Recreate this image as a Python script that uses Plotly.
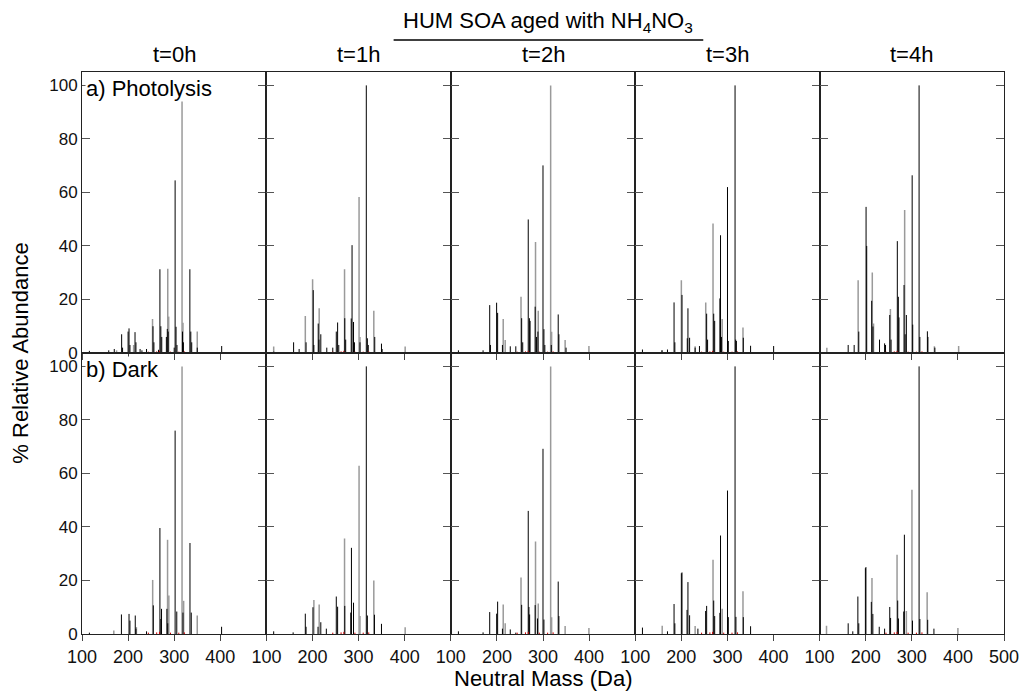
import plotly.graph_objects as go
from plotly.subplots import make_subplots

# ---------------- data (neutral mass in Da, % relative abundance) ----------------
TIME_LABELS = ["t=0h", "t=1h", "t=2h", "t=3h", "t=4h"]
ROW_LABELS = ["a) Photolysis", "b) Dark"]
X_TICKS = [100, 200, 300, 400]
X_TICKS_LAST = [100, 200, 300, 400, 500]
Y_TICKS = [0, 20, 40, 60, 80, 100]

# --- a) Photolysis ---
a0_black_mz = [116, 158, 170, 186, 188, 200, 202, 204, 215, 217, 226, 230, 240, 254, 256, 266, 269, 271, 273, 283, 285, 287, 300, 302, 304, 306, 318, 320, 334, 336, 338, 350, 403]
a0_black_ab = [0.8, 1, 1.5, 7, 2, 8, 9.2, 3, 7.8, 4, 1.5, 1, 1.5, 10, 4, 1.2, 31.3, 10, 6, 6, 9, 8, 2, 64.5, 9.8, 3, 8, 4, 31.3, 8, 4, 2, 2.6]
a0_grey_mz = [175, 212, 253, 286, 288, 317, 319, 350]
a0_grey_ab = [1, 3, 12.7, 31.5, 13.6, 100, 11.3, 8]

a1_black_mz = [116, 159, 171, 186, 201.6, 203, 212.4, 214, 218, 231, 244, 251.6, 254.5, 257, 270, 272, 284, 285.8, 289, 291, 303, 316.7, 319, 321, 335, 349.6, 351]
a1_black_ab = [0.5, 4, 1.5, 4, 23.5, 3, 11, 5, 7, 2, 2, 8, 11.4, 3, 13, 5, 12.9, 40.3, 11.6, 4, 4, 100, 5.5, 3, 6, 3.5, 1.5]
a1_grey_mz = [115.8, 184.4, 200.2, 214.5, 269.5, 301, 303, 333, 401]
a1_grey_ab = [2.4, 13.8, 27.6, 16.7, 31.3, 58.3, 6, 15.8, 2.4]

a2_black_mz = [116.5, 170, 184.4, 186, 199.4, 201.6, 212, 229, 241, 253.7, 256, 268, 270.5, 272, 283, 286, 289, 300, 302, 304, 318, 333, 334.5, 350]
a2_black_ab = [1, 1, 17.9, 3, 18.8, 15, 3, 2.5, 2.5, 13, 4, 49.9, 13, 12, 17.3, 6, 8, 70.1, 8.9, 3, 3, 14.4, 7, 2]
a2_grey_mz = [213.7, 218, 252.3, 283.8, 289.7, 316.6, 318.7, 348, 399.6]
a2_grey_ab = [12.7, 4.9, 21, 41.5, 15.8, 100, 7.9, 4.9, 2.6]

a3_black_mz = [115.7, 158, 170, 184.3, 186, 201.5, 213, 214.4, 218, 230, 239.4, 255, 257, 270.3, 272.4, 283.7, 285.1, 287, 300.2, 302, 316.6, 318, 319.5, 334.5, 350.3, 400.3]
a3_black_ab = [1.3, 1, 1.3, 18.9, 4, 21.7, 5.5, 16.7, 5.7, 2, 2.6, 14.7, 5, 14.7, 12, 20.4, 44, 6, 62, 4.5, 100, 5, 4.5, 5.7, 2.7, 2.6]
a3_grey_mz = [158.6, 200.1, 230, 253, 268.8, 288.7, 333.8]
a3_grey_ab = [1, 27.2, 2.5, 18.9, 48.4, 12.7, 9.5]

a4_black_mz = [162, 175, 185, 200.8, 202.2, 213, 215.7, 230, 241, 243, 252.2, 255, 268.6, 270.8, 272.2, 283.2, 285.6, 288.2, 300.8, 302, 315.8, 317.5, 333.8, 335, 350]
a4_black_ab = [3, 3, 8, 54.6, 40, 19.5, 9.9, 5, 3.6, 3, 14.2, 5, 41.8, 21, 13.3, 25.4, 7, 14.2, 66.4, 10.6, 100, 6, 8.1, 6, 2]
a4_grey_mz = [115.7, 183.6, 214.3, 217, 253.6, 284.5, 349, 401.6]
a4_grey_ab = [2, 27.2, 30.1, 11, 16.4, 53.4, 2.5, 2.6]

# --- b) Dark ---
b0_black_mz = [116, 185.5, 202, 204, 215.5, 217, 240, 254.7, 269, 271, 272.5, 284.2, 286, 302, 305.6, 319, 334.2, 337, 402.8]
b0_black_ab = [0.5, 7.3, 7.5, 5, 6.9, 2, 1, 10.7, 39.6, 5.6, 9.4, 9.4, 4, 76, 8.4, 8, 34, 8, 2.7]
b0_grey_mz = [169, 218, 253.3, 285.6, 288.4, 317, 320.5, 350]
b0_grey_ab = [1.3, 2.6, 20.2, 35.2, 14.4, 100, 12.4, 6.9]

b1_black_mz = [115.8, 158, 184.4, 186, 201, 212, 218, 230, 251.6, 254.5, 270, 283, 284.5, 289, 316.7, 319, 334.4, 349.6]
b1_black_ab = [1, 0.6, 7.6, 2.7, 10, 2.7, 4.4, 2, 14, 10.2, 10.5, 8, 32.2, 11.7, 100, 6.9, 7.2, 3.8]
b1_grey_mz = [203, 214.5, 269.5, 301, 303, 333, 401]
b1_grey_ab = [12.7, 11, 35.7, 62.9, 6.7, 20, 2.5]

b2_black_mz = [116.5, 170, 184.4, 199.5, 201.6, 212, 229, 241, 253.7, 268, 269.5, 271, 283, 288, 300, 302, 333, 334.5]
b2_black_ab = [1, 0.6, 8.2, 7.6, 12.1, 2, 1.7, 0.5, 10.9, 46, 10.1, 7.3, 10.8, 5.8, 69.2, 5.4, 19.6, 6.7]
b2_grey_mz = [213.7, 218, 252.3, 283.8, 289.7, 316.6, 318.7, 348, 399.6]
b2_grey_ab = [11, 4, 21.1, 34.6, 11.4, 100, 6.3, 3, 2.2]

b3_black_mz = [115.7, 170, 184.3, 186, 200.1, 201.5, 212.5, 214.4, 218, 236, 252.8, 255, 270.3, 272.4, 283.7, 285.1, 300.2, 302, 316.6, 318.5, 334.5, 350.3]
b3_black_ab = [2.4, 1, 11.2, 4, 22.7, 23, 9, 19.4, 7, 2, 8.6, 10.5, 12.5, 6.7, 7.9, 36.8, 53.6, 6.3, 100, 6.4, 6.3, 2.9]
b3_grey_mz = [158.6, 230, 268.8, 288.7, 333.8]
b3_grey_ab = [3.1, 3, 27.7, 9.4, 16]

b4_black_mz = [162, 172, 183, 185, 199.3, 200.5, 212.2, 215.5, 229.4, 241, 252.2, 254, 269.4, 271, 282.5, 283.9, 301.5, 315.8, 317.5, 334.5, 348]
b4_black_ab = [4, 1, 14, 4, 24.6, 25, 12, 7.5, 2.7, 2, 10.1, 6, 12.5, 5.8, 8.4, 37.1, 5, 100, 5.6, 5.3, 2]
b4_grey_mz = [115, 213.6, 268, 288.2, 300.3, 333.3, 400]
b4_grey_ab = [3.1, 20.9, 29.6, 8.6, 53.9, 15.6, 2.2]

# minor red peaks near the baseline (approx.)
red_mz = [244, 262, 268, 292, 310, 322]
red_ab = [0.5, 0.6, 0.8, 0.5, 0.5, 0.6]

PANELS = [
    [(a0_black_mz, a0_black_ab, a0_grey_mz, a0_grey_ab),
     (a1_black_mz, a1_black_ab, a1_grey_mz, a1_grey_ab),
     (a2_black_mz, a2_black_ab, a2_grey_mz, a2_grey_ab),
     (a3_black_mz, a3_black_ab, a3_grey_mz, a3_grey_ab),
     (a4_black_mz, a4_black_ab, a4_grey_mz, a4_grey_ab)],
    [(b0_black_mz, b0_black_ab, b0_grey_mz, b0_grey_ab),
     (b1_black_mz, b1_black_ab, b1_grey_mz, b1_grey_ab),
     (b2_black_mz, b2_black_ab, b2_grey_mz, b2_grey_ab),
     (b3_black_mz, b3_black_ab, b3_grey_mz, b3_grey_ab),
     (b4_black_mz, b4_black_ab, b4_grey_mz, b4_grey_ab)],
]


def sticks(mz, ab):
    xs, ys = [], []
    for m, a in zip(mz, ab):
        xs += [m, m, None]
        ys += [0, a, None]
    return xs, ys


FONT = "Liberation Sans, Arial, sans-serif"

fig = make_subplots(rows=2, cols=5, horizontal_spacing=0, vertical_spacing=0)

for r in range(2):
    for c in range(5):
        bmz, bab, gmz, gab = PANELS[r][c]
        gx, gy = sticks(gmz, gab)
        fig.add_trace(go.Scatter(x=gx, y=gy, mode="lines",
                                 line=dict(color="#9a9a9a", width=1.5),
                                 showlegend=False, hoverinfo="skip"),
                      row=r + 1, col=c + 1)
        bx, by = sticks(bmz, bab)
        fig.add_trace(go.Scatter(x=bx, y=by, mode="lines",
                                 line=dict(color="#000000", width=1),
                                 showlegend=False, hoverinfo="skip"),
                      row=r + 1, col=c + 1)
        rx, ry = sticks(red_mz, red_ab)
        fig.add_trace(go.Scatter(x=rx, y=ry, mode="lines",
                                 line=dict(color="#d00000", width=1),
                                 showlegend=False, hoverinfo="skip"),
                      row=r + 1, col=c + 1)

        tv = X_TICKS_LAST if c == 4 else X_TICKS
        fig.update_xaxes(range=[100, 500], tickvals=tv,
                         ticktext=[str(v) for v in tv],
                         showticklabels=(r == 1),
                         ticks="outside", ticklen=6, tickcolor="#444",
                         showline=True, linecolor="#222", linewidth=1,
                         mirror=True, showgrid=False, zeroline=False,
                         tickfont=dict(family=FONT, size=18, color="#111"),
                         row=r + 1, col=c + 1)
        fig.update_yaxes(range=[0, 105], tickvals=Y_TICKS,
                         showticklabels=(c == 0),
                         ticks="inside", ticklen=8, tickcolor="#555",
                         showline=True, linecolor="#222", linewidth=1,
                         mirror="ticks", showgrid=False, zeroline=False,
                         tickfont=dict(family=FONT, size=17, color="#111"),
                         row=r + 1, col=c + 1)

L, R, T, B = 82, 17, 72, 60
W, H = 1031, 694
pw, ph = W - L - R, H - T - B


def px_x(x):
    return (x - L) / pw


def px_y(y):
    return (H - B - y) / ph


annotations = []
for c, lab in enumerate(TIME_LABELS):
    annotations.append(dict(text=lab, xref="paper", yref="paper",
                            x=(c + 0.5) / 5, y=px_y(54), showarrow=False,
                            xanchor="center", yanchor="middle",
                            font=dict(family=FONT, size=22, color="#000")))

annotations.append(dict(text="HUM SOA aged with NH<sub>4</sub>NO<sub>3</sub>",
                        xref="paper", yref="paper", x=px_x(553), y=px_y(22),
                        showarrow=False, xanchor="center", yanchor="middle",
                        font=dict(family=FONT, size=22, color="#000")))
annotations.append(dict(text=ROW_LABELS[0], xref="paper", yref="paper",
                        x=px_x(85), y=px_y(89), showarrow=False,
                        xanchor="left", yanchor="middle", bgcolor="white",
                        borderpad=0,
                        font=dict(family=FONT, size=22, color="#000")))
annotations.append(dict(text=ROW_LABELS[1], xref="paper", yref="paper",
                        x=px_x(85), y=px_y(369), showarrow=False,
                        xanchor="left", yanchor="middle", bgcolor="white",
                        borderpad=0,
                        font=dict(family=FONT, size=22, color="#000")))
annotations.append(dict(text="% Relative Abundance", xref="paper", yref="paper",
                        x=px_x(19), y=0.5, showarrow=False, textangle=-90,
                        xanchor="center", yanchor="middle",
                        font=dict(family=FONT, size=22, color="#000")))
annotations.append(dict(text="Neutral Mass (Da)", xref="paper", yref="paper",
                        x=px_x(548), y=px_y(678), showarrow=False,
                        xanchor="center", yanchor="middle",
                        font=dict(family=FONT, size=22, color="#000")))

fig.update_layout(
    width=W, height=H,
    margin=dict(l=L, r=R, t=T, b=B),
    paper_bgcolor="white", plot_bgcolor="white",
    annotations=annotations,
    shapes=[dict(type="line", xref="paper", yref="paper",
                 x0=px_x(397), x1=px_x(710), y0=px_y(40), y1=px_y(40),
                 line=dict(color="#000", width=1.5))],
)

fig.write_html("out.html", config={"displayModeBar": False},
               post_script="document.body.style.margin='0';document.body.style.overflow='hidden';")
